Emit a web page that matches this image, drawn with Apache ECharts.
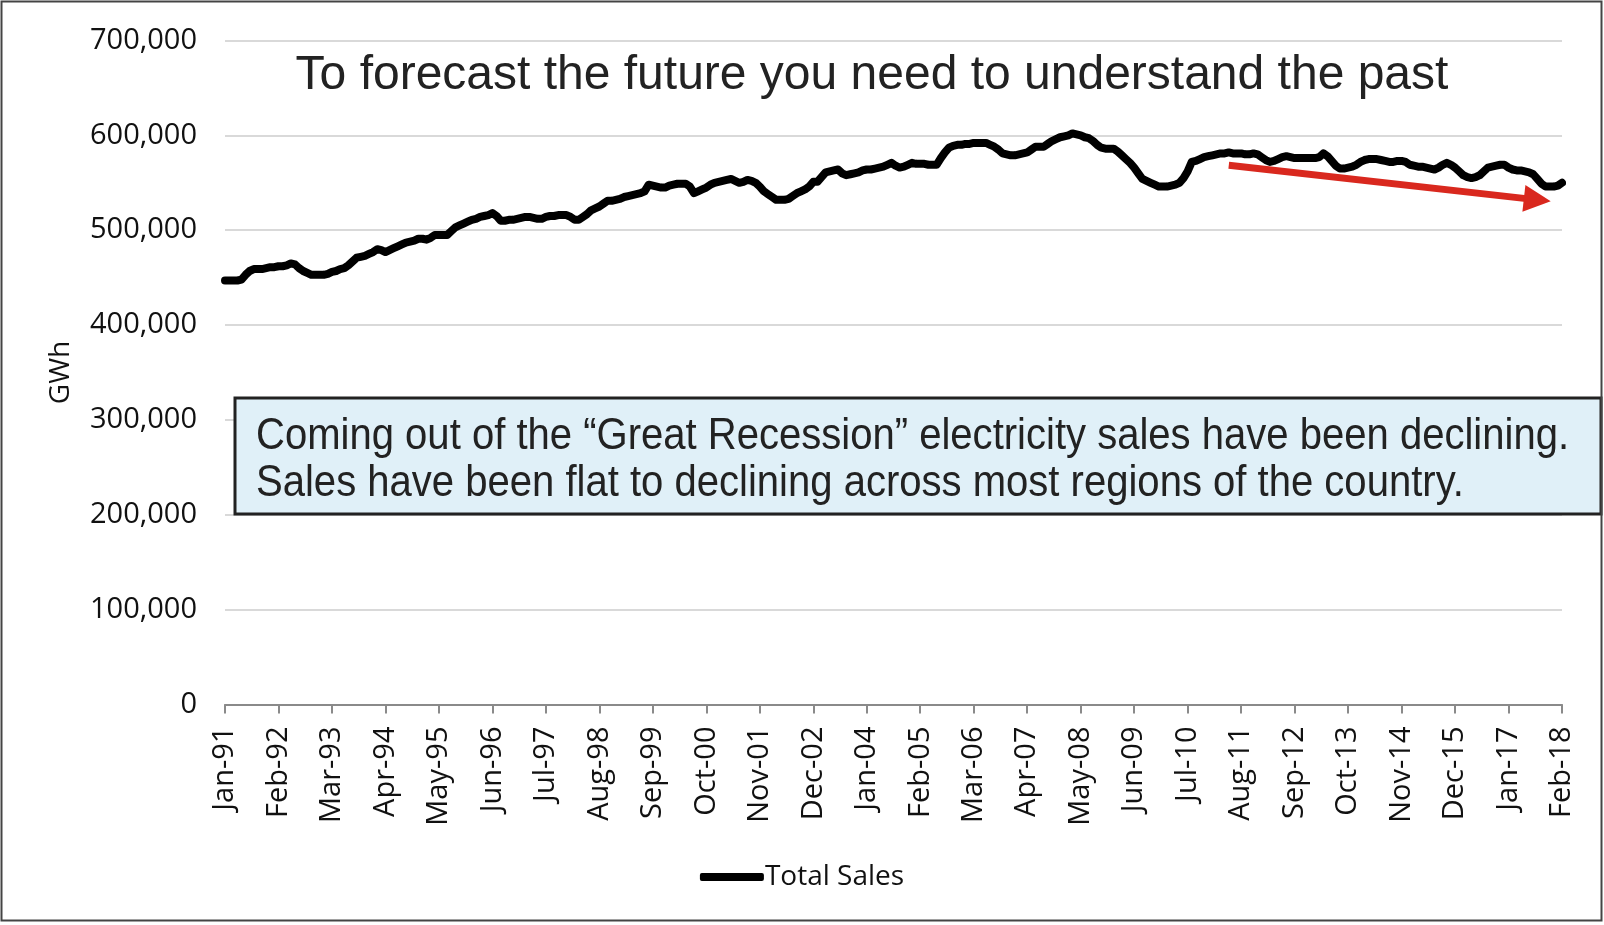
<!DOCTYPE html>
<html>
<head>
<meta charset="utf-8">
<script src="https://cdn.jsdelivr.net/npm/echarts@6/dist/echarts.min.js"></script>
<style>
html,body{margin:0;padding:0;background:#fff;}
#chart{width:1604px;height:925px;}
</style>
</head>
<body>
<div id="chart"></div>
<script>
// ---- Data (GWh, rolling total sales, monthly Jan-91 .. Feb-18) ----
const monthNames = ['Jan','Feb','Mar','Apr','May','Jun','Jul','Aug','Sep','Oct','Nov','Dec'];
const startYear = 1991;
const monthCount = 326;

const sales1991to1999 = [
447000,447000,447000,447000,448000,453000,457000,459000,459000,459000,460000,461000,
461000,462000,462000,463000,465000,464000,460000,457000,455000,453000,453000,453000,
453000,454000,456000,457000,459000,460000,463000,467000,471000,472000,473000,475000,
477000,480000,479000,477000,479000,481000,483000,485000,487000,488000,489000,491000,
491000,490000,492000,495000,495000,495000,495000,499000,503000,505000,507000,509000,
511000,512000,514000,515000,516000,518000,515000,510000,510000,511000,511000,512000,
513000,514000,514000,513000,512000,512000,514000,515000,515000,516000,516000,516000,
514000,511000,511000,514000,517000,521000,523000,525000,528000,531000,531000,532000,
533000,535000,536000,537000,538000,539000,541000,548000,547000,546000,545000,545000
];
const sales2000to2009 = [
547000,548000,549000,549000,549000,546000,539000,541000,543000,545000,548000,550000,
551000,552000,553000,554000,552000,550000,551000,553000,552000,550000,546000,541000,
538000,535000,532000,532000,532000,533000,536000,539000,541000,543000,546000,551000,
551000,556000,561000,562000,563000,564000,560000,558000,559000,560000,561000,563000,
564000,564000,565000,566000,567000,569000,571000,568000,566000,567000,569000,571000,
570000,570000,570000,569000,569000,569000,576000,582000,587000,589000,590000,590000,
591000,591000,592000,592000,592000,592000,590000,588000,585000,581000,580000,579000,
579000,580000,581000,582000,585000,588000,588000,588000,591000,594000,596000,598000,
599000,600000,602000,601000,600000,598000,597000,594000,590000,587000,586000,586000,
586000,583000,579000,575000,571000,566000,560000,554000,552000,550000,548000,546000
];
const sales2010to2018 = [
546000,546000,547000,548000,550000,555000,562000,572000,573000,575000,577000,578000,
579000,580000,581000,581000,582000,581000,581000,581000,580000,580000,581000,580000,
577000,574000,572000,573000,575000,577000,578000,577000,576000,576000,576000,576000,
576000,576000,577000,581000,578000,573000,568000,565000,565000,566000,567000,569000,
572000,574000,575000,575000,575000,574000,573000,572000,572000,573000,573000,572000,
569000,568000,567000,567000,566000,565000,564000,566000,569000,571000,569000,566000,
562000,558000,556000,555000,556000,558000,562000,566000,567000,568000,569000,569000,
566000,564000,563000,563000,562000,561000,559000,554000,549000,546000,546000,546000,
547000,550000
];
// trend arrow (annotation) endpoints: [category index, GWh]
const trendStart = [244, 568500];
const trendEnd = [319, 532000];

const seriesName = 'Total Sales';
const yTicks = [0,100000,200000,300000,400000,500000,600000,700000];

const categories = [];
for (let i = 0; i < monthCount; i++) {
  const y = startYear + Math.floor(i / 12);
  categories.push(monthNames[i % 12] + '-' + String(y % 100).padStart(2, '0'));
}
const totalSales = sales1991to1999.concat(sales2000to2009, sales2010to2018);

const chart = echarts.init(document.getElementById('chart'), null, {renderer:'canvas'});
const tickFont = '"Open Sans", "Noto Sans", sans-serif';

chart.setOption({
  animation: false,
  backgroundColor: '#ffffff',
  grid: { left: 225, right: 42, top: 40.5, bottom: 220.5, containLabel: false },
  legend: {
    data: [seriesName],
    left: 'center',
    top: 858,
    icon: 'roundRect',
    itemWidth: 64,
    itemHeight: 8,
    itemGap: 10,
    textStyle: { fontFamily: tickFont, fontSize: 28, color: '#111111', padding: [0,0,0,-4] }
  },
  xAxis: {
    type: 'category',
    data: categories,
    boundaryGap: false,
    axisLine: { lineStyle: { color: '#8a8a8a', width: 2 } },
    axisTick: { show: true, interval: 12, length: 9, lineStyle: { color: '#8a8a8a', width: 2 } },
    axisLabel: {
      interval: 12, rotate: 90, margin: 22,
      fontFamily: tickFont, fontSize: 29, color: '#111111'
    },
    splitLine: { show: false }
  },
  yAxis: {
    type: 'value',
    min: yTicks[0],
    max: yTicks[yTicks.length - 1],
    interval: 100000,
    name: 'GWh',
    nameLocation: 'middle',
    nameGap: 150,
    nameTextStyle: { fontFamily: tickFont, fontSize: 28, color: '#111111' },
    axisLine: { show: false },
    axisTick: { show: false },
    axisLabel: {
      margin: 28,
      fontFamily: tickFont, fontSize: 29, color: '#111111',
      formatter: v => v.toLocaleString('en-US')
    },
    splitLine: { lineStyle: { color: '#d9d9d9', width: 2 } }
  },
  series: [{
    name: seriesName,
    type: 'line',
    data: totalSales,
    showSymbol: false,
    symbol: 'none',
    lineStyle: { color: '#000000', width: 8, cap: 'round', join: 'round' },
    itemStyle: { color: '#000000' },
    emphasis: { disabled: true },
    markLine: {
      silent: true,
      symbol: ['none', 'triangle'],
      symbolSize: [27, 27],
      label: { show: false },
      lineStyle: { color: '#D9281E', width: 7, type: 'solid' },
      itemStyle: { color: '#D9281E' },
      emphasis: { disabled: true },
      data: [[ { coord: [trendStart[0], trendStart[1]] }, { coord: [trendEnd[0], trendEnd[1]] } ]]
    }
  }],
  graphic: [
    {
      type: 'text', x: 872, y: 76, z: 10,
      style: {
        text: 'To forecast the future you need to understand the past',
        font: '48px "Liberation Sans", Arial, sans-serif',
        fill: '#222222', align: 'center', verticalAlign: 'middle'
      }
    },
    {
      type: 'rect', z: 10,
      shape: { x: 235, y: 398, width: 1366, height: 116 },
      style: { fill: '#E0F0F8', stroke: '#222222', lineWidth: 3 }
    },
    {
      type: 'text', x: 256, y: 437, z: 11, scaleX: 0.91,
      style: {
        text: 'Coming out of the \u201CGreat Recession\u201D electricity sales have been declining.',
        font: '44px "Liberation Sans", Arial, sans-serif',
        fill: '#222222', align: 'left', verticalAlign: 'middle'
      }
    },
    {
      type: 'text', x: 256, y: 484, z: 11, scaleX: 0.91,
      style: {
        text: 'Sales have been flat to declining across most regions of the country.',
        font: '44px "Liberation Sans", Arial, sans-serif',
        fill: '#222222', align: 'left', verticalAlign: 'middle'
      }
    },
    {
      type: 'rect', z: 12, silent: true,
      shape: { x: 1.5, y: 1.5, width: 1600, height: 919 },
      style: { fill: 'none', stroke: '#444444', lineWidth: 2 }
    }
  ]
});
</script>
</body>
</html>
